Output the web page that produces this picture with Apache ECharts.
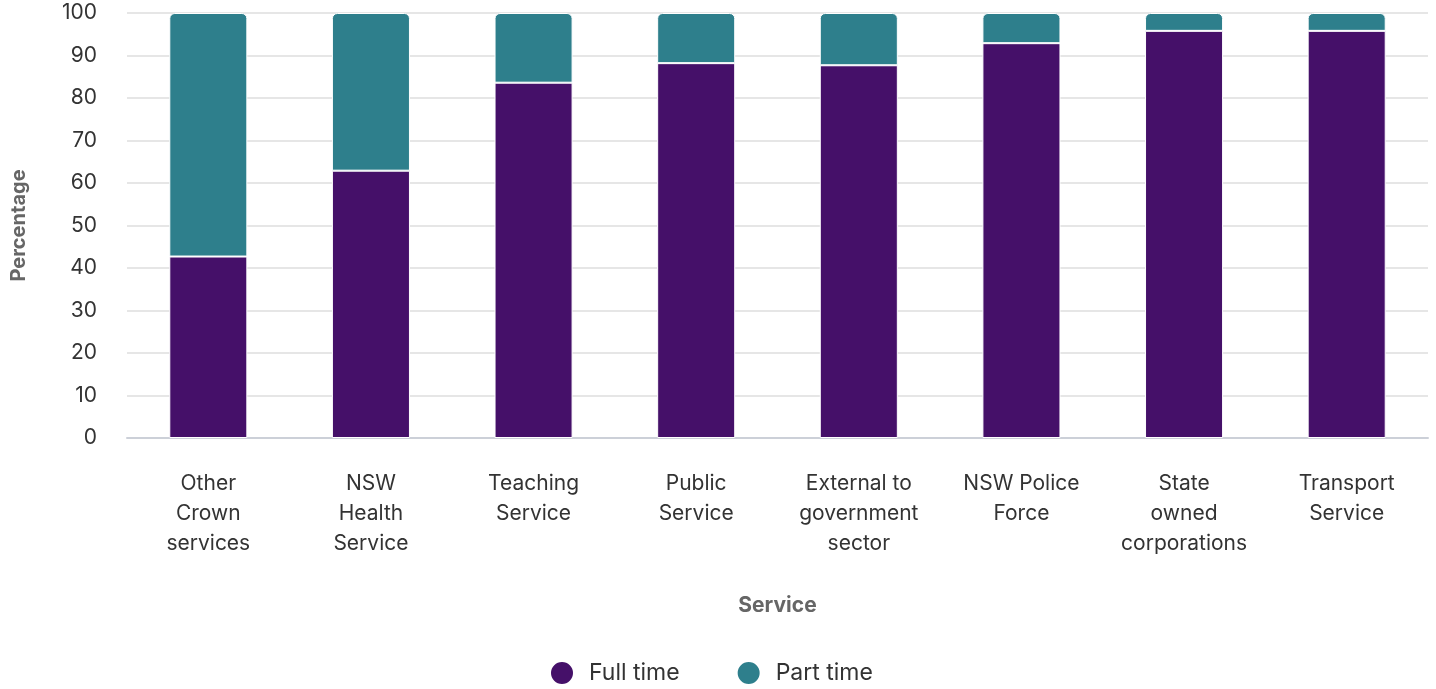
<!DOCTYPE html>
<html>
<head>
<meta charset="utf-8">
<script src="https://cdn.jsdelivr.net/npm/echarts@6/dist/echarts.min.js"></script>
<style>html,body{margin:0;padding:0;background:#fff;}#chart{width:1436px;height:689px;}</style>
</head>
<body>
<div id="chart"></div>
<script>
const categories = ["Other\nCrown\nservices", "NSW\nHealth\nService", "Teaching\nService", "Public\nService", "External to\ngovernment\nsector", "NSW Police\nForce", "State\nowned\ncorporations", "Transport\nService"];
const fullTime = [42.7, 62.9, 83.6, 88.2, 87.7, 92.9, 95.8, 95.8];
const partTime = [57.3, 37.1, 16.4, 11.8, 12.3, 7.1, 4.2, 4.2];
const seriesNames = ["Full time", "Part time"];
const colors = ["#451069", "#2e7f8c"];
const FONT = "Inter, 'Open Sans', sans-serif";

const chart = echarts.init(document.getElementById('chart'), null, {renderer: 'canvas'});
chart.setOption({
  animation: false,
  color: colors,
  textStyle: {fontFamily: FONT},
  grid: {left: 127, right: 8, top: 13, bottom: 251, containLabel: false},
  legend: {
    top: 655, left: 544, icon: 'circle', itemWidth: 24, itemHeight: 24, itemGap: 56,
    textStyle: {fontSize: 23, color: '#333', fontFamily: FONT, padding: [0, 0, 0, 10]},
    data: seriesNames
  },
  xAxis: {
    type: 'category', data: categories,
    name: 'Service', nameLocation: 'middle', nameGap: 157,
    nameTextStyle: {fontSize: 21, fontWeight: 'bold', color: '#666', fontFamily: FONT},
    axisLine: {show: true, lineStyle: {color: '#ccd0d8', width: 2}},
    axisTick: {show: false},
    axisLabel: {fontSize: 21, color: '#333', lineHeight: 30, margin: 31, interval: 0, fontFamily: FONT}
  },
  yAxis: {
    type: 'value', min: 0, max: 100, interval: 10,
    name: 'Percentage', nameLocation: 'middle', nameGap: 98, nameRotate: 90,
    nameTextStyle: {fontSize: 20, fontWeight: 'bold', color: '#666', fontFamily: FONT},
    axisLine: {show: false}, axisTick: {show: false},
    axisLabel: {fontSize: 21, color: '#333', margin: 30, fontFamily: FONT},
    splitLine: {lineStyle: {color: '#e6e6e6', width: 2}}
  },
  series: [
    {name: seriesNames[0], type: 'bar', stack: 'total', data: fullTime, barWidth: '48%',
     itemStyle: {color: colors[0], borderColor: '#fff', borderWidth: 1}},
    {name: seriesNames[1], type: 'bar', stack: 'total', data: partTime, barWidth: '48%',
     itemStyle: {color: colors[1], borderColor: '#fff', borderWidth: 1, borderRadius: [5, 5, 0, 0]}}
  ]
});
</script>
</body>
</html>
